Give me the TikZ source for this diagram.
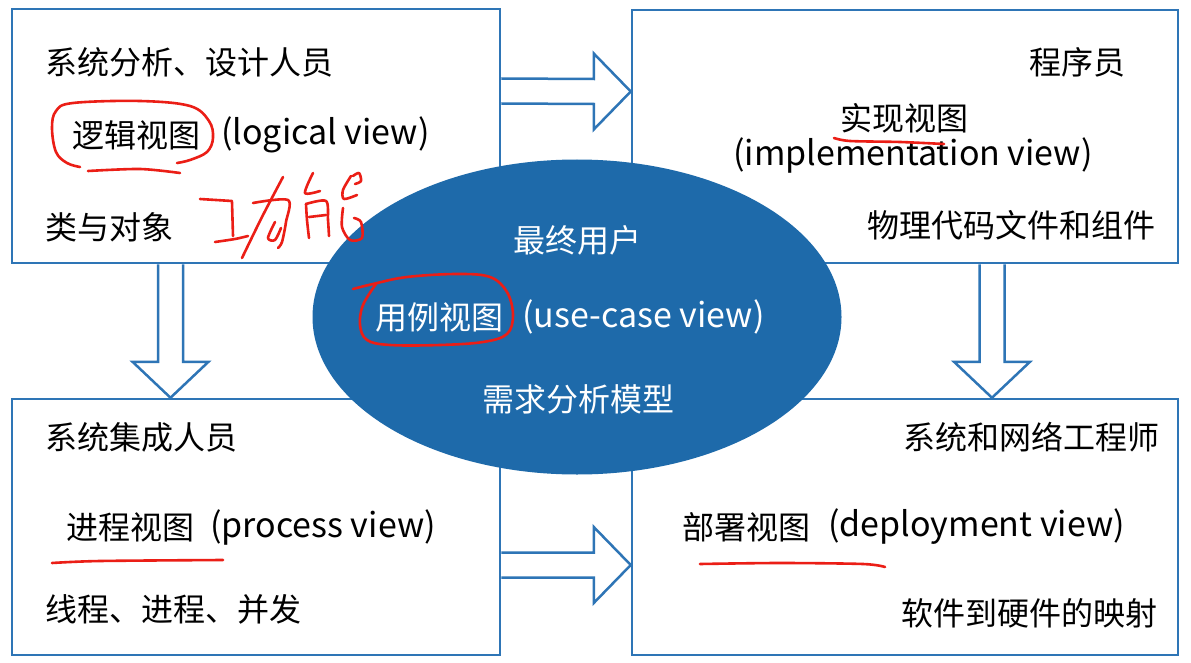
\documentclass[tikz,border=0pt]{standalone}
\usepackage{fontspec}
\setmainfont{Noto Sans CJK SC}
\usetikzlibrary{calc,shapes.geometric}
\definecolor{boxblue}{RGB}{46,117,182}
\definecolor{ellblue}{RGB}{30,106,170}
\definecolor{penred}{RGB}{235,30,22}
\begin{document}
\begin{tikzpicture}[x=1pt,y=-1pt,
  box/.style={draw=boxblue, line width=2.5pt, fill=white, inner sep=0pt},
  blk/.style={draw=boxblue, line width=2.5pt, fill=white, line join=miter},
  txt/.style={font=\fontsize{32}{36}\selectfont, inner sep=0pt, text=black},
  ltxt/.style={txt, font=\fontsize{34}{38}\selectfont},
  wtxt/.style={txt, text=white},
  wltxt/.style={ltxt, text=white},
  ink/.style={draw=penred, line width=2.6pt, line cap=round, line join=round}]
\useasboundingbox (0,0) rectangle (1191,663);
\fill[white] (0,0) rectangle (1191,663);
% boxes
\node[box, minimum width=488pt, minimum height=254pt] (tl) at (256,136) {};
\node[box, minimum width=546pt, minimum height=253pt] (tr) at (905,136.5) {};
\node[box, minimum width=488pt, minimum height=256pt] (bl) at (256,527) {};
\node[box, minimum width=546pt, minimum height=256pt] (br) at (905,527) {};
% anchor points of block arrows
\path (tl.east) ++(0,-45) coordinate (r1s);
\path (tr.west) ++(0,-45) coordinate (r1e);
\path (bl.east) ++(0,38) coordinate (r2s);
\path (br.west) ++(0,38) coordinate (r2e);
\path (tl.south) ++(-85.5,0) coordinate (d1s);
\path (bl.north) ++(-85.5,0) coordinate (d1e);
\path (tr.south) ++(87,0) coordinate (d2s);
\path (br.north) ++(87,0) coordinate (d2e);
% right arrows
\draw[blk] ($(r1s)+(0,-12.5)$) -- ($(r1e)+(-37,-12.5)$) -- ($(r1e)+(-37,-38)$) -- (r1e)
  -- ($(r1e)+(-37,38)$) -- ($(r1e)+(-37,12.5)$) -- ($(r1s)+(0,12.5)$);
\draw[blk] ($(r2s)+(0,-12.5)$) -- ($(r2e)+(-37,-12.5)$) -- ($(r2e)+(-37,-38)$) -- (r2e)
  -- ($(r2e)+(-37,38)$) -- ($(r2e)+(-37,12.5)$) -- ($(r2s)+(0,12.5)$);
% down arrows
\draw[blk] ($(d1s)+(-12.5,0)$) -- ($(d1e)+(-12.5,-36)$) -- ($(d1e)+(-38,-36)$) -- (d1e)
  -- ($(d1e)+(38,-36)$) -- ($(d1e)+(12.5,-36)$) -- ($(d1s)+(12.5,0)$);
\draw[blk] ($(d2s)+(-12.5,0)$) -- ($(d2e)+(-12.5,-36)$) -- ($(d2e)+(-38,-36)$) -- (d2e)
  -- ($(d2e)+(38,-36)$) -- ($(d2e)+(12.5,-36)$) -- ($(d2s)+(12.5,0)$);
% central ellipse
\node[ellipse, fill=ellblue, minimum width=529pt, minimum height=315pt, inner sep=0pt] (uc) at (577,317) {};
% texts top-left
\node[txt, anchor=west] (tl1) at (45,62) {系统分析、设计人员};
\node[txt, anchor=west] (tl2) at (72,135) {逻辑视图};
\node[ltxt, anchor=west] (tl2e) at (221,135) {(logical view)};
\node[txt, anchor=west] (tl3) at (45,227) {类与对象};
% texts top-right
\node[txt, anchor=east] (tr1) at (1126,62) {程序员};
\node[txt, anchor=west] (tr2) at (840,118) {实现视图};
\node[ltxt, anchor=west] (tr2e) at (733,155) {(implementation view)};
\node[txt, anchor=east] (tr3) at (1156,225) {物理代码文件和组件};
% ellipse texts
\node[wtxt] (u1) at (577,240) {最终用户};
\node[wtxt, anchor=west] (u2) at (375,317) {用例视图};
\node[wltxt, anchor=west] (u2e) at (522,317) {(use-case view)};
\node[wtxt] (u3) at (578,399) {需求分析模型};
% texts bottom-left
\node[txt, anchor=west] (bl1) at (45,437) {系统集成人员};
\node[txt, anchor=west] (bl2) at (66,527) {进程视图};
\node[ltxt, anchor=west] (bl2e) at (210,527) {(process view)};
\node[txt, anchor=west] (bl3) at (45,609) {线程、进程、并发};
% texts bottom-right
\node[txt, anchor=east] (br1) at (1160,437) {系统和网络工程师};
\node[txt, anchor=west] (br2) at (682,527) {部署视图};
\node[ltxt, anchor=west] (br2e) at (828,527) {(deployment view)};
\node[txt, anchor=east] (br3) at (1158,613) {软件到硬件的映射};
% red handwriting
\draw[ink] plot[smooth, tension=0.6] coordinates {(80,167) (67,163) (56,152) (52,128) (56,111) (73,103) (140,101) (190,106) (209,121) (213,138) (207,152) (190,160) (177,163)};
\draw[ink] plot[smooth] coordinates {(88,171) (140,169) (180,173)};
\draw[ink] plot[smooth, tension=0.6] coordinates {(353,289) (373,284) (407,277) (457,274) (490,277) (507,292) (513,315) (507,334) (483,342) (440,345) (390,345) (367,340) (360,325) (363,305) (376,284)};
\draw[ink] plot[smooth] coordinates {(834,138) (850,141) (900,142) (944,144)};
\draw[ink] plot[smooth] coordinates {(52,563) (100,561) (223,560)};
\draw[ink] plot[smooth] coordinates {(700,564) (780,563) (863,564) (885,567)};
% 功
\draw[ink] (200,199) -- (232,201);
\draw[ink] (232,202) -- (233,236);
\draw[ink] plot[smooth] coordinates {(215,242) (235,239) (248,236)};
\draw[ink] plot[smooth] coordinates {(253,203) (288,200) (286,222) (282,242) (278,248)};
\draw[ink] plot[smooth] coordinates {(283,177) (262,217) (242,258)};
\draw[ink] plot[smooth] coordinates {(275,222) (268,238) (275,240) (281,228)};
% 能
\draw[ink] plot[smooth] coordinates {(313,173) (305,193) (320,191)};
\draw[ink] plot[smooth] coordinates {(306,204) (307,220) (309,238)};
\draw[ink] plot[smooth] coordinates {(306,204) (326,201) (328,220) (329,236)};
\draw[ink] (309,217) -- (326,215);
\draw[ink] plot[smooth] coordinates {(351,176) (343,190) (344,199) (357,195)};
\draw[ink] plot[smooth] coordinates {(353,176) (359,173) (361,181) (355,184)};
\draw[ink] plot[smooth] coordinates {(343,208) (342,227) (350,240) (362,238) (361,222) (354,218)};
\end{tikzpicture}
\end{document}
